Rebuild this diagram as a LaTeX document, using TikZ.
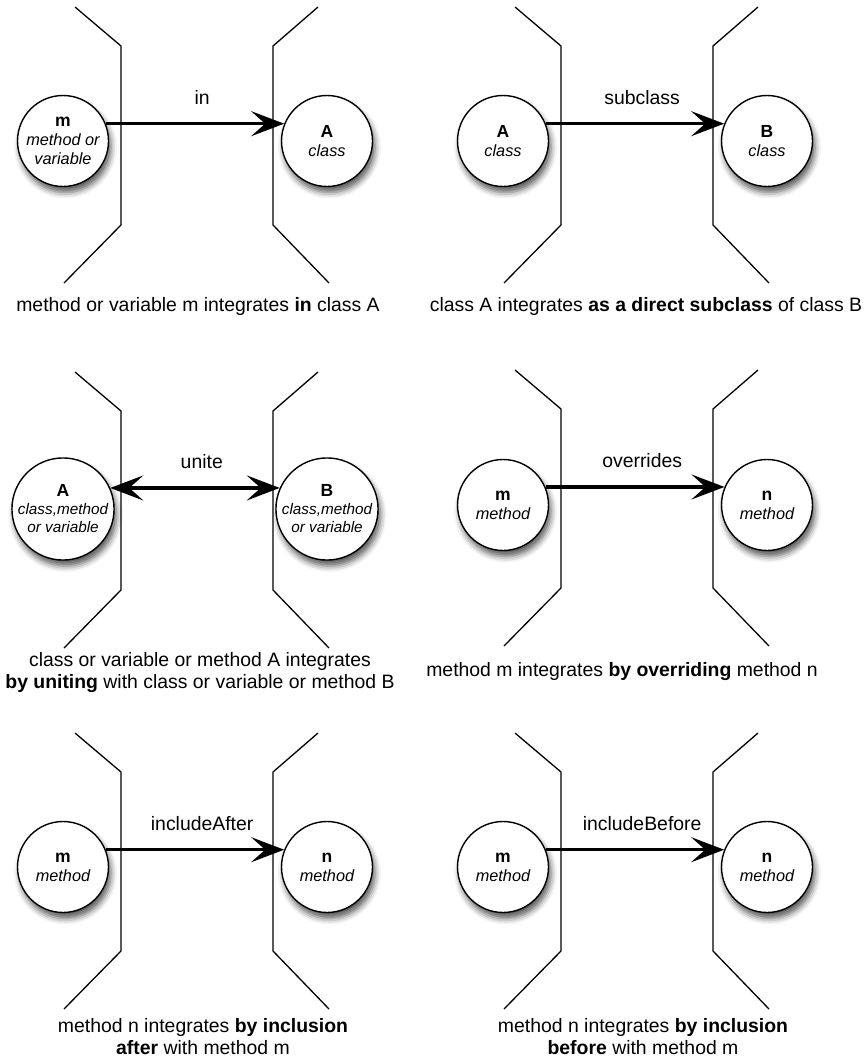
\documentclass[tikz,border=0pt]{standalone}
\usepackage{fontspec}
\setmainfont{Liberation Sans}
\usetikzlibrary{arrows.meta,shadows.blur}

\tikzset{
  relhead/.tip={Stealth[length=33pt,width=25pt,inset=14pt]},
  bracket/.style={line width=1.3pt, line join=miter},
  item/.style={circle, draw, line width=1.4pt, fill=white, minimum size=91pt,
    inner sep=0pt, align=center, font=\fontsize{16.3}{19}\selectfont\itshape,
    blur shadow={shadow xshift=2.5pt, shadow yshift=-6pt,
                 shadow blur radius=6pt, shadow opacity=65}},
  rel/.style={line width=3.2pt, -relhead},
  birel/.style={line width=3.2pt, relhead-relhead},
  lbl/.style={pos=0.54, anchor=base, yshift=19.5pt, inner sep=0pt,
    font=\fontsize{19.4}{22}\selectfont},
  caption/.style={inner sep=0pt, align=center, font=\fontsize{19.4}{22}\selectfont},
}
% bold name of an element, then its kind on the following lines
\newcommand\elname[1]{{\upshape\bfseries\fontsize{17.5}{20}\selectfont #1}}

% the two boundary brackets of one panel
\newcommand\brackets{%
  \draw[bracket] (75,7) -- (121,46) -- (121,225) -- (64,283);
  \draw[bracket] (318,7) -- (273,46) -- (273,225) -- (329,283);
}

\begin{document}
\begin{tikzpicture}[x=1pt,y=-1pt]
\useasboundingbox (0,0) rectangle (865,1062);

% in
\begin{scope}[shift={(0,0)}]
  \brackets
  \node[item] (m1) at (63,141) {\elname{m}\\method or\\variable};
  \node[item] (a1) at (327,141) {\elname{A}\\class};
  \draw[rel] (m1.22) -- node[lbl] {in} (a1.158);
  \node[caption, anchor=base] (c1) at (198,311)
    {method or variable m integrates \textbf{in} class A};
\end{scope}

% subclass
\begin{scope}[shift={(440,0)}]
  \brackets
  \node[item] (a2) at (63,141) {\elname{A}\\class};
  \node[item] (b2) at (327,141) {\elname{B}\\class};
  \draw[rel] (a2.22) -- node[lbl] {subclass} (b2.158);
  \node[caption, anchor=base] (c2) at (206,311)
    {class A integrates \textbf{as a direct subclass} of class B};
\end{scope}

% unite
\begin{scope}[shift={(0,365)}]
  \brackets
  \node[item, font=\fontsize{15.3}{18}\selectfont\itshape] (a3) at (63,144)
    {\elname{A}\\class,method\\or variable};
  \node[item, font=\fontsize{15.3}{18}\selectfont\itshape] (b3) at (327,144)
    {\elname{B}\\class,method\\or variable};
  \draw[birel] (a3.24) -- node[lbl] {unite} (b3.156);
  \node[caption, anchor=north] (c3) at (200,287.5)
    {class or variable or method A integrates\\
     \textbf{by uniting} with class or variable or method B};
\end{scope}

% overrides
\begin{scope}[shift={(440,363)}]
  \brackets
  \node[item] (m4) at (63,142) {\elname{m}\\method};
  \node[item] (n4) at (327,142) {\elname{n}\\method};
  \draw[rel] (m4.23) -- node[lbl] {overrides} (n4.157);
  \node[caption, anchor=base] (c4) at (182,313)
    {method m integrates \textbf{by overriding} method n};
\end{scope}

% includeAfter
\begin{scope}[shift={(0,726)}]
  \brackets
  \node[item] (m5) at (63,141) {\elname{m}\\method};
  \node[item] (n5) at (327,141) {\elname{n}\\method};
  \draw[rel] (m5.22) -- node[lbl] {includeAfter} (n5.158);
  \node[caption, anchor=north] (c5) at (203,292.5)
    {method n integrates \textbf{by inclusion}\\
     \textbf{after} with method m};
\end{scope}

% includeBefore
\begin{scope}[shift={(440,726)}]
  \brackets
  \node[item] (m6) at (63,141) {\elname{m}\\method};
  \node[item] (n6) at (327,141) {\elname{n}\\method};
  \draw[rel] (m6.22) -- node[lbl] {includeBefore} (n6.158);
  \node[caption, anchor=north] (c6) at (203,292.5)
    {method n integrates \textbf{by inclusion}\\
     \textbf{before} with method m};
\end{scope}
\end{tikzpicture}
\end{document}
